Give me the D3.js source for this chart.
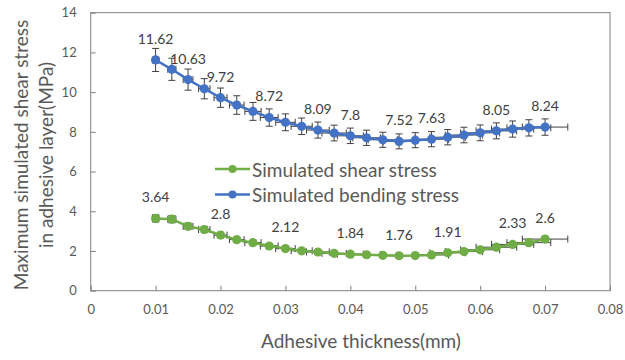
<!DOCTYPE html>
<html>
<head>
<meta charset="utf-8">
<script src="https://cdn.jsdelivr.net/npm/d3@7"></script>
<style>
  body { margin: 0; background: #fff; }
  svg { font-family: Lato, "Open Sans", sans-serif; }
</style>
</head>
<body>
<svg id="chart" width="625" height="360"></svg>
<script>
// Adhesive thickness (mm)
const thickness = [0.01, 0.0125, 0.015, 0.0175, 0.02, 0.0225, 0.025, 0.0275, 0.03, 0.0325,
  0.035, 0.0375, 0.04, 0.0425, 0.045, 0.0475, 0.05, 0.0525, 0.055, 0.0575,
  0.06, 0.0625, 0.065, 0.0675, 0.07];

const shearStress = [3.64, 3.60, 3.24, 3.08, 2.80, 2.57, 2.42, 2.25, 2.12, 2.01,
  1.95, 1.88, 1.84, 1.81, 1.78, 1.76, 1.77, 1.80, 1.91, 1.97,
  2.06, 2.19, 2.33, 2.42, 2.60];

const bendingStress = [11.62, 11.15, 10.63, 10.17, 9.72, 9.35, 9.03, 8.72, 8.48, 8.28,
  8.09, 7.94, 7.80, 7.70, 7.60, 7.52, 7.58, 7.63, 7.73, 7.84,
  7.95, 8.05, 8.14, 8.20, 8.24];

// which points carry a data label
const shearLabelIdx = [0, 4, 8, 12, 15, 18, 22, 24];
const bendingLabelIdx = [0, 2, 4, 7, 10, 12, 15, 17, 21, 24];

const xTicks = [0, 0.01, 0.02, 0.03, 0.04, 0.05, 0.06, 0.07, 0.08];
const yTicks = [0, 2, 4, 6, 8, 10, 12, 14];

const errFrac = 0.05; // 5% error bars on both axes

const series = [
  { name: 'Simulated shear stress', values: shearStress, labels: shearLabelIdx, color: '#70ad47' },
  { name: 'Simulated bending stress', values: bendingStress, labels: bendingLabelIdx, color: '#4472c4' }
];

const margin = { top: 12.7, right: 15, bottom: 69.3, left: 90.7 };
const width = 625 - margin.left - margin.right;
const height = 360 - margin.top - margin.bottom;

const svg = d3.select('#chart');
const g = svg.append('g').attr('transform', `translate(${margin.left},${margin.top})`);

const x = d3.scaleLinear().domain([0, 0.08]).range([0, width]);
const y = d3.scaleLinear().domain([0, 14]).range([height, 0]);

// frame
g.append('rect')
  .attr('width', width).attr('height', height)
  .attr('fill', 'none').attr('stroke', '#808080').attr('stroke-width', 1);

// x axis (ticks point inward)
const xAxis = g.append('g')
  .attr('transform', `translate(0,${height})`)
  .call(d3.axisBottom(x).tickValues(xTicks).tickSizeInner(-5).tickSizeOuter(0).tickPadding(14)
    .tickFormat(d => d === 0 ? '0' : d3.format('.2f')(d)));
xAxis.select('.domain').remove();
xAxis.selectAll('line').attr('stroke', '#808080');
xAxis.selectAll('text').attr('fill', '#595959').style('font-size', '13px').style('font-family', 'Lato, sans-serif');

// y axis (ticks point inward)
const yAxis = g.append('g')
  .call(d3.axisLeft(y).tickValues(yTicks).tickSizeInner(-5).tickSizeOuter(0).tickPadding(14));
yAxis.select('.domain').remove();
yAxis.selectAll('line').attr('stroke', '#808080');
yAxis.selectAll('text').attr('fill', '#595959').style('font-size', '13px').style('font-family', 'Lato, sans-serif');

// axis titles
svg.append('text')
  .attr('x', 361).attr('y', 340)
  .attr('text-anchor', 'middle').attr('dominant-baseline', 'central')
  .attr('fill', '#595959').style('font-size', '19px')
  .text('Adhesive thickness(mm)');

const yTitle = svg.append('text')
  .attr('transform', 'translate(0,155) rotate(-90)')
  .attr('text-anchor', 'middle').attr('fill', '#595959').style('font-size', '19px');
yTitle.append('tspan').attr('x', 0).attr('y', 20).attr('dominant-baseline', 'central')
  .text('Maximum simulated shear stress');
yTitle.append('tspan').attr('x', 0).attr('y', 45).attr('dominant-baseline', 'central')
  .text('in adhesive layer(MPa)');

const line = d3.line().x((d, i) => x(thickness[i])).y(d => y(d));

series.forEach(s => {
  const sg = g.append('g');

  // error bars
  const eb = sg.append('g').attr('stroke', '#404040').attr('stroke-width', 1).attr('fill', 'none');
  s.values.forEach((v, i) => {
    const px = x(thickness[i]), py = y(v);
    const dy = y(v * (1 - errFrac)) - py;
    const dx = x(thickness[i] * (1 + errFrac)) - px;
    eb.append('path').attr('d',
      `M${px},${py - dy}V${py + dy}M${px - 3.5},${py - dy}H${px + 3.5}M${px - 3.5},${py + dy}H${px + 3.5}` +
      `M${px - dx},${py}H${px + dx}M${px - dx},${py - 3.5}V${py + 3.5}M${px + dx},${py - 3.5}V${py + 3.5}`);
  });

  sg.append('path')
    .datum(s.values)
    .attr('d', line)
    .attr('fill', 'none').attr('stroke', s.color).attr('stroke-width', 2.5);

  sg.selectAll('circle')
    .data(s.values)
    .join('circle')
    .attr('cx', (d, i) => x(thickness[i]))
    .attr('cy', d => y(d))
    .attr('r', 4.6)
    .attr('fill', s.color);

  sg.selectAll('text.lbl')
    .data(s.labels)
    .join('text')
    .attr('class', 'lbl')
    .attr('x', i => x(thickness[i]))
    .attr('y', i => y(s.values[i]) - 21)
    .attr('dy', '0.35em')
    .attr('text-anchor', 'middle')
    .attr('fill', '#404040')
    .style('font-size', '14px')
    .text(i => s.values[i]);
});

// legend
const legend = svg.append('g');
series.forEach((s, k) => {
  const ly = 169 + k * 25.5;
  legend.append('line')
    .attr('x1', 215).attr('x2', 250).attr('y1', ly).attr('y2', ly)
    .attr('stroke', s.color).attr('stroke-width', 2.5);
  legend.append('circle').attr('cx', 232.5).attr('cy', ly).attr('r', 4).attr('fill', s.color);
  legend.append('text')
    .attr('x', 252).attr('y', ly).attr('dominant-baseline', 'central')
    .attr('fill', '#595959').style('font-size', '19px')
    .text(s.name);
});
</script>
</body>
</html>
